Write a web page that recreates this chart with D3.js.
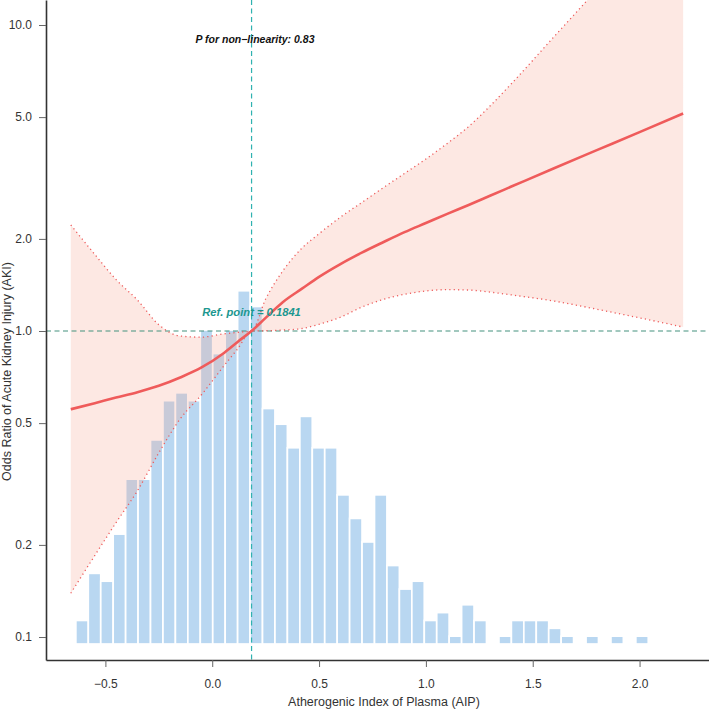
<!DOCTYPE html>
<html>
<head>
<meta charset="utf-8">
<script src="https://cdn.jsdelivr.net/npm/d3@7"></script>
<style>
  body { margin: 0; background: #fff; }
  text { font-family: "Liberation Sans", Arial, Helvetica, sans-serif; }
</style>
</head>
<body>
<div id="root"></div>
<script>
'use strict';

var width = 709;
var height = 713;

// AIP grid and odds ratios (reference point AIP = 0.1841)
var aip = [-0.662, -0.55, -0.45, -0.35, -0.25, -0.15, -0.05, 0.05, 0.12, 0.1841,
  0.25, 0.33, 0.42, 0.5, 0.6, 0.7, 0.8, 0.9, 1.0, 1.1, 1.2, 1.3, 1.4, 1.6, 1.8, 2.0, 2.204];
var orFit = [0.555, 0.581, 0.606, 0.631, 0.662, 0.705, 0.760, 0.843, 0.923, 1.0,
  1.104, 1.242, 1.375, 1.503, 1.655, 1.803, 1.950, 2.104, 2.254, 2.415, 2.582, 2.767, 2.965, 3.404, 3.90, 4.467, 5.14];
var orLower = [0.139, 0.1845, 0.2366, 0.3006, 0.40, 0.516, 0.619, 0.762, 0.876, 1.0,
  1.002, 1.007, 1.019, 1.052, 1.109, 1.197, 1.268, 1.318, 1.352, 1.365, 1.361, 1.34, 1.312, 1.253, 1.178, 1.104, 1.03];
var orUpper = [2.22, 1.781, 1.472, 1.262, 1.048, 0.963, 0.955, 0.978, 0.99, 1.0,
  1.272, 1.57, 1.866, 2.080, 2.355, 2.630, 2.938, 3.273, 3.648, 4.102, 4.656, 5.433, 6.427, 9.16, 13.03, 18.6, 26.9];

// histogram of AIP (counts per bin)
var histStart = -0.6383;
var histBinWidth = 0.05824;
var histCounts = [3, 9, 8, 14, 21, 21, 26, 31, 32, 31, 40, 37, 40, 45, 43, 30, 28, 25, 29, 25,
  25, 19, 16, 13, 19, 10, 7, 8, 3, 4, 1, 5, 3, 0, 1, 3, 3, 3, 2, 1, 0, 1, 0, 1, 0, 1];

var refPoint = 0.1841;
var xTicks = [-0.5, 0, 0.5, 1.0, 1.5, 2.0];
var yTicks = [0.1, 0.2, 0.5, 1.0, 2.0, 5.0, 10.0];

var padLeft = 46, padRight = 709, padTop = 0, padBottom = 660;

var svg = d3.select('#root')
  .append('svg')
  .attr('width', width)
  .attr('height', height)
  .style('background', '#fff');

var x = d3.scaleLinear()
  .domain([-0.778, 2.325])
  .range([padLeft, padRight]);

var y = d3.scaleLog()
  .domain([0.08412, 12.07])
  .range([padBottom, padTop]);

// histogram height is its own scale, about 7.85 px per case
var count = d3.scaleLinear()
  .domain([0, 45])
  .range([644, 644 - 45 * 7.85]);

svg.append('clipPath')
  .attr('id', 'plot-clip')
  .append('rect')
  .attr('x', padLeft)
  .attr('y', padTop)
  .attr('width', padRight - padLeft)
  .attr('height', padBottom - padTop);

var plot = svg.append('g').attr('clip-path', 'url(#plot-clip)');

var bins = histCounts.map((c, i) => ({
  x0: histStart + i * histBinWidth,
  x1: histStart + (i + 1) * histBinWidth,
  n: c
})).filter(d => d.n > 0);

plot.selectAll('rect.bar')
  .data(bins)
  .enter()
  .append('rect')
  .attr('class', 'bar')
  .attr('x', d => x(d.x0))
  .attr('width', d => x(d.x1) - x(d.x0))
  .attr('y', d => count(d.n))
  .attr('height', d => count(0) - count(d.n))
  .attr('fill', '#b9d7f1')
  .attr('stroke', '#fff')
  .attr('stroke-width', 1.7);

var rows = aip.map((a, i) => ({ a: a, fit: orFit[i], lo: orLower[i], hi: orUpper[i] }));

plot.append('path')
  .datum(rows)
  .attr('d', d3.area()
    .x(d => x(d.a))
    .y0(d => y(d.lo))
    .y1(d => y(d.hi))
    .curve(d3.curveMonotoneX))
  .attr('fill', '#f6a48e')
  .attr('fill-opacity', 0.25);

// reference lines
plot.append('line')
  .attr('x1', padLeft).attr('x2', padRight)
  .attr('y1', y(1)).attr('y2', y(1))
  .attr('stroke', '#45927f')
  .attr('stroke-width', 1.1)
  .attr('stroke-dasharray', '5,3.5');

plot.append('line')
  .attr('x1', x(refPoint)).attr('x2', x(refPoint))
  .attr('y1', padTop).attr('y2', padBottom)
  .attr('stroke', '#2fb2b0')
  .attr('stroke-width', 1.2)
  .attr('stroke-dasharray', '5,3.5');

['lo', 'hi'].forEach(function(k) {
  plot.append('path')
    .datum(rows)
    .attr('d', d3.line()
      .x(d => x(d.a))
      .y(d => y(d[k]))
      .curve(d3.curveMonotoneX))
    .attr('fill', 'none')
    .attr('stroke', '#ee5a5a')
    .attr('stroke-width', 1.3)
    .attr('stroke-dasharray', '1.2,3.2');
});

plot.append('path')
  .datum(rows)
  .attr('d', d3.line()
    .x(d => x(d.a))
    .y(d => y(d.fit))
    .curve(d3.curveMonotoneX))
  .attr('fill', 'none')
  .attr('stroke', '#ef5b5b')
  .attr('stroke-width', 2.6);

// axes
var xAxis = svg.append('g')
  .attr('transform', `translate(0,${padBottom})`)
  .call(d3.axisBottom(x)
    .tickValues(xTicks)
    .tickFormat(d3.format('.1f'))
    .tickSize(7)
    .tickSizeOuter(0)
    .tickPadding(12));

var yAxis = svg.append('g')
  .attr('transform', `translate(${padLeft},0)`)
  .call(d3.axisLeft(y)
    .tickValues(yTicks)
    .tickFormat(d3.format('.1f'))
    .tickSize(7)
    .tickSizeOuter(0)
    .tickPadding(7));

[xAxis, yAxis].forEach(function(g) {
  g.select('.domain').attr('stroke', '#333').attr('stroke-width', 1.6);
  g.selectAll('.tick line').attr('stroke', '#666').attr('stroke-width', 1);
  g.selectAll('.tick text')
    .attr('fill', '#333')
    .style('font-size', '12px')
    .style('font-family', '"Liberation Sans", Arial, sans-serif');
});

svg.append('text')
  .attr('x', 384)
  .attr('y', 706)
  .attr('text-anchor', 'middle')
  .attr('fill', '#333')
  .style('font-size', '12.5px')
  .text('Atherogenic Index of Plasma (AIP)');

svg.append('text')
  .attr('transform', 'translate(11,371.5) rotate(-90)')
  .attr('text-anchor', 'middle')
  .attr('fill', '#333')
  .style('font-size', '12.5px')
  .text('Odds Ratio of Acute Kidney Injury (AKI)');

svg.append('text')
  .attr('x', x(refPoint))
  .attr('y', 316)
  .attr('text-anchor', 'middle')
  .attr('fill', '#1c9790')
  .style('font-size', '11.2px')
  .style('font-weight', 'bold')
  .style('font-style', 'italic')
  .text('Ref. point = ' + refPoint);

svg.append('text')
  .attr('x', 255)
  .attr('y', 43)
  .attr('text-anchor', 'middle')
  .attr('fill', '#111')
  .style('font-size', '10.5px')
  .style('font-weight', 'bold')
  .style('font-style', 'italic')
  .text('P for non\u2212linearity: 0.83');
</script>
</body>
</html>
